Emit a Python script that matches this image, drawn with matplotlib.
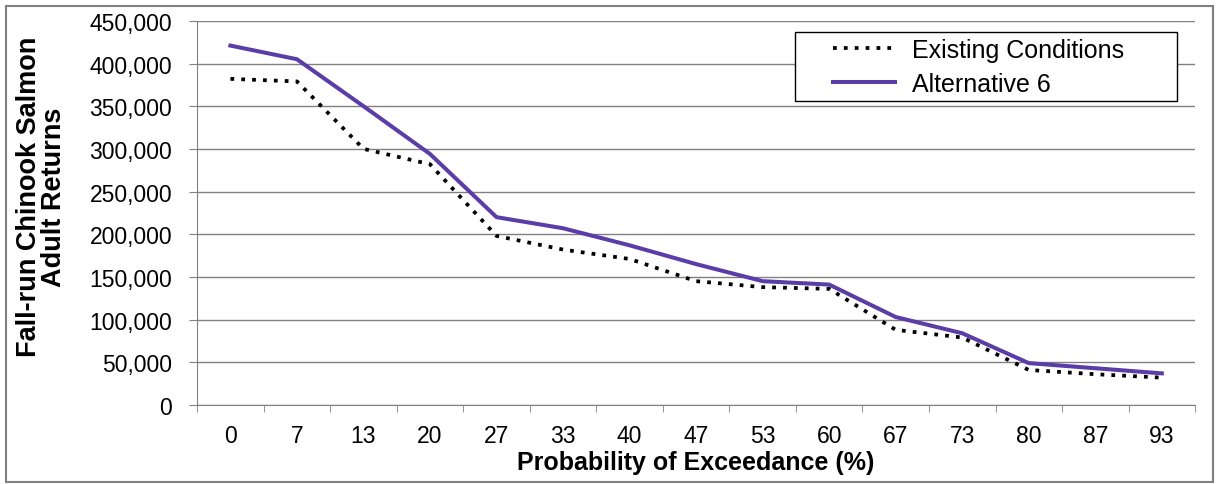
import matplotlib
matplotlib.use('Agg')
import matplotlib.pyplot as plt
from matplotlib.ticker import FuncFormatter, FixedLocator
from matplotlib.patches import Rectangle

plt.rcParams['font.family'] = ['Liberation Sans', 'DejaVu Sans']

# Data
categories = ['0', '7', '13', '20', '27', '33', '40', '47', '53', '60', '67', '73', '80', '87', '93']
existing = [382000, 379000, 300000, 282000, 198000, 182000, 171000, 145000, 138000, 136000,
            88000, 79000, 41000, 36000, 32000]
alt6 = [421000, 405000, 350000, 294000, 220000, 207000, 187000, 165000, 145000, 141000,
        103000, 84000, 49000, 43000, 37000]

fig = plt.figure(figsize=(12.17, 4.85), dpi=100)
ax = fig.add_axes([0.162, 0.163, 0.820, 0.792])

x = range(len(categories))
ax.plot(x, existing, color='black', linestyle=(0, (1, 1.9)), linewidth=2.7,
        label='Existing Conditions')
ax.plot(x, alt6, color='#5a3da6', linewidth=2.9, label='Alternative 6')

ax.set_xlim(-0.5, len(categories) - 0.5)
ax.set_ylim(0, 450000)
ax.set_yticks(range(0, 450001, 50000))
ax.yaxis.set_major_formatter(FuncFormatter(lambda v, p: f'{int(v):,}'))
ax.grid(axis='y', color='#808080', linewidth=1)
ax.set_axisbelow(True)

# category labels centred, tick marks on the boundaries (Excel style)
ax.set_xticks(list(x))
ax.set_xticklabels(categories)
ax.tick_params(axis='x', length=0, labelsize=16.5, pad=14)
ax.xaxis.set_minor_locator(FixedLocator([i - 0.5 for i in range(len(categories) + 1)]))
ax.tick_params(axis='x', which='minor', length=5, color='#808080')
ax.tick_params(axis='y', labelsize=16.5, length=6, pad=12, color='#808080')

for s in ['top', 'right']:
    ax.spines[s].set_visible(False)
for s in ['left', 'bottom']:
    ax.spines[s].set_color('#808080')

ax.set_ylabel('Fall-run Chinook Salmon\nAdult Returns', fontsize=19.5, fontweight='bold',
              linespacing=0.95)
ax.yaxis.set_label_coords(-0.130, 0.544)
ax.set_xlabel('Probability of Exceedance (%)', fontsize=18, fontweight='bold', labelpad=2)

# legend entries without their own frame; box drawn separately like the Excel one
leg = ax.legend(loc='upper left', bbox_to_anchor=(0.637, 0.955), fontsize=18,
                frameon=False, handlelength=2.5, borderpad=0, labelspacing=0.4,
                handletextpad=0.68, borderaxespad=0)
ax.add_patch(Rectangle((0.599, 0.792), 0.383, 0.179, transform=ax.transAxes,
                       facecolor='white', edgecolor='black', linewidth=1.0, zorder=4))
leg.set_zorder(5)

# grey frame around the whole chart
fig.patches.append(Rectangle((0.005, 0.004), 0.992, 0.982, transform=fig.transFigure,
                             fill=False, edgecolor='#808080', linewidth=1.5))

fig.savefig('out.png', dpi=100)
